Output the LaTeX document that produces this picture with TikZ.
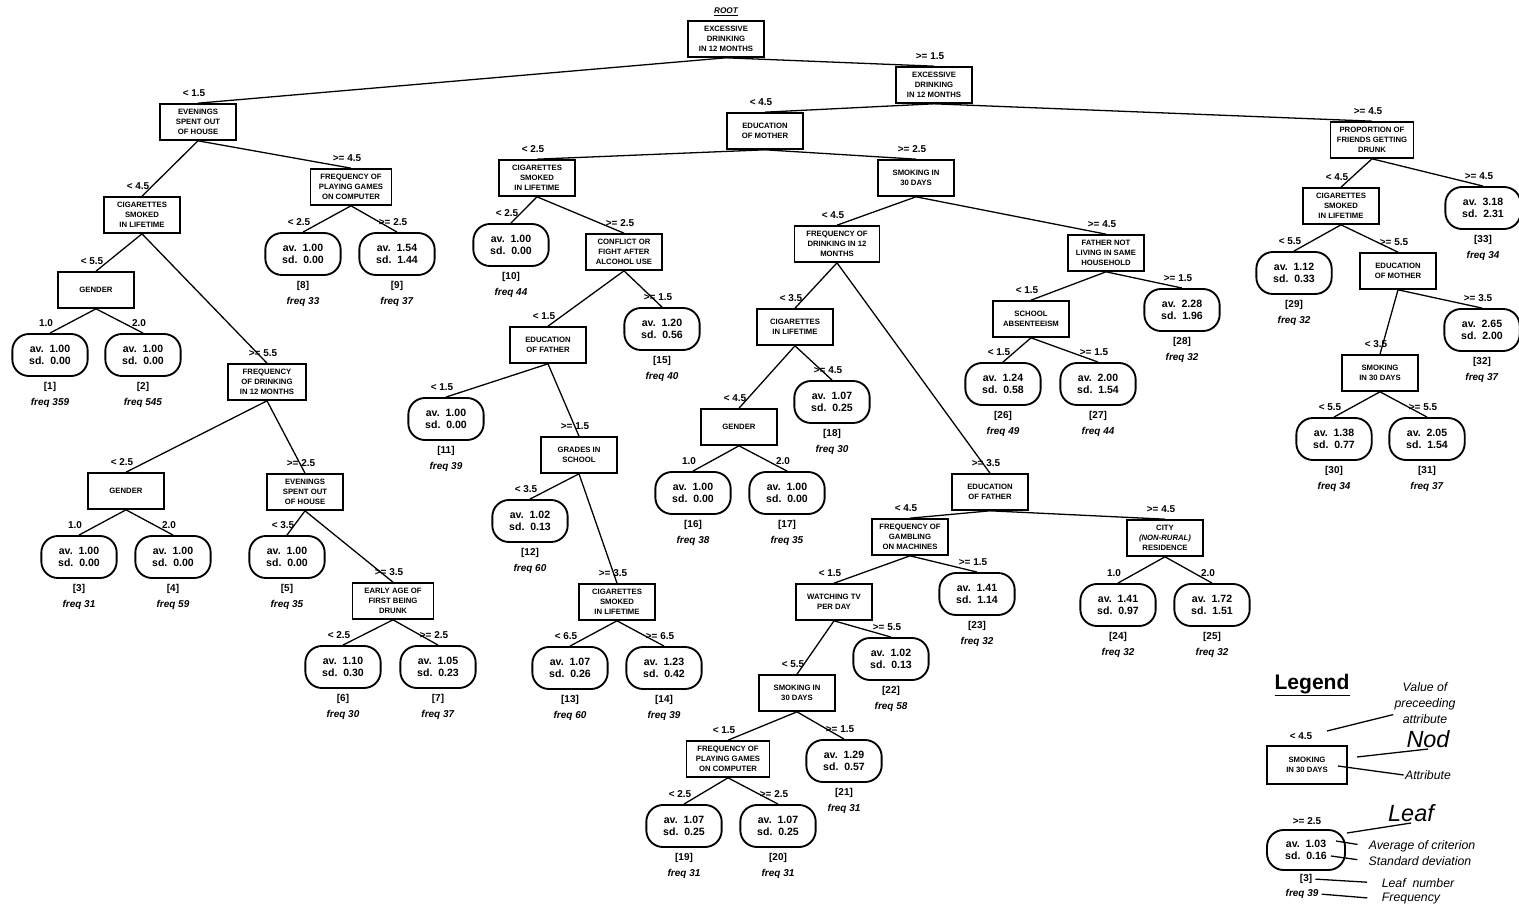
\documentclass[tikz,border=0pt]{standalone}
\usepackage{fontspec}
\setmainfont{Liberation Sans}
\begin{document}
\begin{tikzpicture}[x=0.03cm,y=-0.03cm,
  box/.style={draw, rectangle, line width=1.4pt, minimum width=2.28cm, minimum height=1.08cm, inner sep=1pt, align=center, font=\fontsize{6.6}{8.6}\selectfont\bfseries},
  leaf/.style={draw, rectangle, rounded corners=0.5cm, line width=1.6pt, minimum width=2.26cm, minimum height=1.26cm, inner sep=1pt, align=center, font=\fontsize{9}{10.4}\selectfont\bfseries},
  val/.style={font=\fontsize{8.5}{10}\selectfont\bfseries, inner sep=1pt},
  cut/.style={val, xshift=-0.12cm, yshift=4.5pt},
  num/.style={font=\fontsize{8.5}{13.6}\selectfont\bfseries, align=center, inner sep=1pt},
  leafno/.style={num, yshift=-3pt},
  link/.style={line width=1.1pt},
  note/.style={font=\fontsize{10.5}{13.4}\selectfont\itshape, align=center, inner sep=1pt},
  big/.style={font=\fontsize{20}{22}\selectfont\itshape, inner sep=1pt}]
\useasboundingbox (0,0) rectangle (1519,906);

\node[box, label={[font=\fontsize{7}{8}\selectfont\bfseries\itshape, inner sep=1pt, yshift=2.5pt]above:\underline{ROOT}}] (n0) at (726,39) {EXCESSIVE\\DRINKING\\IN 12 MONTHS};
\node[box, label={[cut]above:{< 1.5}}] (n1) at (198,122) {EVENINGS\\SPENT OUT\\OF HOUSE};
\node[box, label={[cut]above:{>= 1.5}}] (n2) at (934,85) {EXCESSIVE\\DRINKING\\IN 12 MONTHS};
\node[box, label={[cut]above:{< 4.5}}] (n3) at (142,215) {CIGARETTES\\SMOKED\\IN LIFETIME};
\node[box, minimum width=2.43cm, label={[cut]above:{>= 4.5}}] (n4) at (351,187) {FREQUENCY OF\\PLAYING GAMES\\ON COMPUTER};
\node[box, label={[cut]above:{< 5.5}}] (n5) at (96,290) {GENDER};
\node[box, minimum width=2.34cm, label={[cut]above:{>= 5.5}}] (n6) at (267,382) {FREQUENCY\\OF DRINKING\\IN 12 MONTHS};
\node[box, label={[cut]above:{< 2.5}}] (n7) at (126,491) {GENDER};
\node[box, label={[cut]above:{>= 2.5}}] (n8) at (305,492) {EVENINGS\\SPENT OUT\\OF HOUSE};
\node[box, minimum width=2.43cm, label={[cut]above:{>= 3.5}}] (n9) at (393,601) {EARLY AGE OF\\FIRST BEING\\DRUNK};
\node[box, label={[cut]above:{< 4.5}}] (n10) at (765,131) {EDUCATION\\OF MOTHER};
\node[box, minimum width=2.49cm, label={[cut]above:{>= 4.5}}] (n11) at (1372,140) {PROPORTION OF\\FRIENDS GETTING\\DRUNK};
\node[box, label={[cut]above:{< 2.5}}] (n12) at (537,178) {CIGARETTES\\SMOKED\\IN LIFETIME};
\node[box, label={[cut]above:{>= 2.5}}] (n13) at (916,178) {SMOKING IN\\30 DAYS};
\node[box, label={[cut]above:{>= 2.5}}] (n14) at (624,252) {CONFLICT OR\\FIGHT AFTER\\ALCOHOL USE};
\node[box, label={[cut]above:{< 1.5}}] (n15) at (548,345) {EDUCATION\\OF FATHER};
\node[box, label={[cut]above:{>= 1.5}}] (n16) at (579,455) {GRADES IN\\SCHOOL};
\node[box, label={[cut]above:{>= 3.5}}] (n17) at (617,602) {CIGARETTES\\SMOKED\\IN LIFETIME};
\node[box, minimum width=2.55cm, label={[cut]above:{< 4.5}}] (n18) at (837,244) {FREQUENCY OF\\DRINKING IN 12\\MONTHS};
\node[box, label={[cut]above:{>= 4.5}}] (n19) at (1106,253) {FATHER NOT\\LIVING IN SAME\\HOUSEHOLD};
\node[box, label={[cut]above:{< 3.5}}] (n20) at (795,327) {CIGARETTES\\IN LIFETIME};
\node[box, label={[cut]above:{< 4.5}}] (n21) at (739,427) {GENDER};
\node[box, label={[cut]above:{>= 3.5}}] (n22) at (990,492) {EDUCATION\\OF FATHER};
\node[box, label={[cut]above:{< 4.5}}] (n23) at (910,537) {FREQUENCY OF\\GAMBLING\\ON MACHINES};
\node[box, label={[cut]above:{>= 4.5}}] (n24) at (1165,538) {CITY\\\textit{(NON-RURAL)}\\RESIDENCE};
\node[box, label={[cut]above:{< 1.5}}] (n25) at (834,602) {WATCHING TV\\PER DAY};
\node[box, label={[cut]above:{< 5.5}}] (n26) at (797,693) {SMOKING IN\\30 DAYS};
\node[box, minimum width=2.49cm, label={[cut]above:{< 1.5}}] (n27) at (728,759) {FREQUENCY OF\\PLAYING GAMES\\ON COMPUTER};
\node[box, label={[cut]above:{< 1.5}}] (n28) at (1031,319) {SCHOOL\\ABSENTEEISM};
\node[box, label={[cut]above:{< 4.5}}] (n29) at (1341,206) {CIGARETTES\\SMOKED\\IN LIFETIME};
\node[box, label={[cut]above:{>= 5.5}}] (n30) at (1398,271) {EDUCATION\\OF MOTHER};
\node[box, label={[cut]above:{< 3.5}}] (n31) at (1380,373) {SMOKING\\IN 30 DAYS};

\node[leaf, label={[cut]above:{1.0}}, label={[leafno]below:{[1]\\\textit{freq 359}}}] (l1) at (50,355) {av.~~1.00\\sd.~~0.00};
\node[leaf, label={[cut]above:{2.0}}, label={[leafno]below:{[2]\\\textit{freq 545}}}] (l2) at (143,355) {av.~~1.00\\sd.~~0.00};
\node[leaf, label={[cut]above:{1.0}}, label={[leafno]below:{[3]\\\textit{freq 31}}}] (l3) at (79,557) {av.~~1.00\\sd.~~0.00};
\node[leaf, label={[cut]above:{2.0}}, label={[leafno]below:{[4]\\\textit{freq 59}}}] (l4) at (173,557) {av.~~1.00\\sd.~~0.00};
\node[leaf, label={[cut]above:{< 3.5}}, label={[leafno]below:{[5]\\\textit{freq 35}}}] (l5) at (287,557) {av.~~1.00\\sd.~~0.00};
\node[leaf, label={[cut]above:{< 2.5}}, label={[leafno]below:{[6]\\\textit{freq 30}}}] (l6) at (343,667) {av.~~1.10\\sd.~~0.30};
\node[leaf, label={[cut]above:{>= 2.5}}, label={[leafno]below:{[7]\\\textit{freq 37}}}] (l7) at (438,667) {av.~~1.05\\sd.~~0.23};
\node[leaf, label={[cut]above:{< 2.5}}, label={[leafno]below:{[8]\\\textit{freq 33}}}] (l8) at (303,254) {av.~~1.00\\sd.~~0.00};
\node[leaf, label={[cut]above:{>= 2.5}}, label={[leafno]below:{[9]\\\textit{freq 37}}}] (l9) at (397,254) {av.~~1.54\\sd.~~1.44};
\node[leaf, label={[cut]above:{< 2.5}}, label={[leafno]below:{[10]\\\textit{freq 44}}}] (l10) at (511,245) {av.~~1.00\\sd.~~0.00};
\node[leaf, label={[cut]above:{< 1.5}}, label={[leafno]below:{[11]\\\textit{freq 39}}}] (l11) at (446,419) {av.~~1.00\\sd.~~0.00};
\node[leaf, label={[cut]above:{< 3.5}}, label={[leafno]below:{[12]\\\textit{freq 60}}}] (l12) at (530,521) {av.~~1.02\\sd.~~0.13};
\node[leaf, label={[cut]above:{< 6.5}}, label={[leafno]below:{[13]\\\textit{freq 60}}}] (l13) at (570,668) {av.~~1.07\\sd.~~0.26};
\node[leaf, label={[cut]above:{>= 6.5}}, label={[leafno]below:{[14]\\\textit{freq 39}}}] (l14) at (664,668) {av.~~1.23\\sd.~~0.42};
\node[leaf, label={[cut]above:{>= 1.5}}, label={[leafno]below:{[15]\\\textit{freq 40}}}] (l15) at (662,329) {av.~~1.20\\sd.~~0.56};
\node[leaf, label={[cut]above:{1.0}}, label={[leafno]below:{[16]\\\textit{freq 38}}}] (l16) at (693,493) {av.~~1.00\\sd.~~0.00};
\node[leaf, label={[cut]above:{2.0}}, label={[leafno]below:{[17]\\\textit{freq 35}}}] (l17) at (787,493) {av.~~1.00\\sd.~~0.00};
\node[leaf, label={[cut]above:{>= 4.5}}, label={[leafno]below:{[18]\\\textit{freq 30}}}] (l18) at (832,402) {av.~~1.07\\sd.~~0.25};
\node[leaf, label={[cut]above:{< 2.5}}, label={[leafno]below:{[19]\\\textit{freq 31}}}] (l19) at (684,826) {av.~~1.07\\sd.~~0.25};
\node[leaf, label={[cut]above:{>= 2.5}}, label={[leafno]below:{[20]\\\textit{freq 31}}}] (l20) at (778,826) {av.~~1.07\\sd.~~0.25};
\node[leaf, label={[cut]above:{>= 1.5}}, label={[leafno]below:{[21]\\\textit{freq 31}}}] (l21) at (844,761) {av.~~1.29\\sd.~~0.57};
\node[leaf, label={[cut]above:{>= 5.5}}, label={[leafno]below:{[22]\\\textit{freq 58}}}] (l22) at (891,659) {av.~~1.02\\sd.~~0.13};
\node[leaf, label={[cut]above:{>= 1.5}}, label={[leafno]below:{[23]\\\textit{freq 32}}}] (l23) at (977,594) {av.~~1.41\\sd.~~1.14};
\node[leaf, label={[cut]above:{1.0}}, label={[leafno]below:{[24]\\\textit{freq 32}}}] (l24) at (1118,605) {av.~~1.41\\sd.~~0.97};
\node[leaf, label={[cut]above:{2.0}}, label={[leafno]below:{[25]\\\textit{freq 32}}}] (l25) at (1212,605) {av.~~1.72\\sd.~~1.51};
\node[leaf, label={[cut]above:{< 1.5}}, label={[leafno]below:{[26]\\\textit{freq 49}}}] (l26) at (1003,384) {av.~~1.24\\sd.~~0.58};
\node[leaf, label={[cut]above:{>= 1.5}}, label={[leafno]below:{[27]\\\textit{freq 44}}}] (l27) at (1098,384) {av.~~2.00\\sd.~~1.54};
\node[leaf, label={[cut]above:{>= 1.5}}, label={[leafno]below:{[28]\\\textit{freq 32}}}] (l28) at (1182,310) {av.~~2.28\\sd.~~1.96};
\node[leaf, label={[cut]above:{< 5.5}}, label={[leafno]below:{[29]\\\textit{freq 32}}}] (l29) at (1294,273) {av.~~1.12\\sd.~~0.33};
\node[leaf, label={[cut]above:{< 5.5}}, label={[leafno]below:{[30]\\\textit{freq 34}}}] (l30) at (1334,439) {av.~~1.38\\sd.~~0.77};
\node[leaf, label={[cut]above:{>= 5.5}}, label={[leafno]below:{[31]\\\textit{freq 37}}}] (l31) at (1427,439) {av.~~2.05\\sd.~~1.54};
\node[leaf, label={[cut]above:{>= 3.5}}, label={[leafno]below:{[32]\\\textit{freq 37}}}] (l32) at (1482,330) {av.~~2.65\\sd.~~2.00};
\node[leaf, label={[cut]above:{>= 4.5}}, label={[leafno]below:{[33]\\\textit{freq 34}}}] (l33) at (1483,208) {av.~~3.18\\sd.~~2.31};

\draw[link] (n1.north) -- (n0.south) -- (n2.north);
\draw[link] (n3.north) -- (n1.south) -- (n4.north);
\draw[link] (l8.north) -- (n4.south) -- (l9.north);
\draw[link] (n5.north) -- (n3.south) -- (n6.north);
\draw[link] (l1.north) -- (n5.south) -- (l2.north);
\draw[link] (n7.north) -- (n6.south) -- (n8.north);
\draw[link] (l3.north) -- (n7.south) -- (l4.north);
\draw[link] (l5.north) -- (n8.south) -- (n9.north);
\draw[link] (l6.north) -- (n9.south) -- (l7.north);
\draw[link] (n10.north) -- (n2.south) -- (n11.north);
\draw[link] (n12.north) -- (n10.south) -- (n13.north);
\draw[link] (l10.north) -- (n12.south) -- (n14.north);
\draw[link] (n15.north) -- (n14.south) -- (l15.north);
\draw[link] (l11.north) -- (n15.south) -- (n16.north);
\draw[link] (l12.north) -- (n16.south) -- (n17.north);
\draw[link] (l13.north) -- (n17.south) -- (l14.north);
\draw[link] (n18.north) -- (n13.south) -- (n19.north);
\draw[link] (n20.north) -- (n18.south) -- (n22.north);
\draw[link] (n21.north) -- (n20.south) -- (l18.north);
\draw[link] (l16.north) -- (n21.south) -- (l17.north);
\draw[link] (n23.north) -- (n22.south) -- (n24.north);
\draw[link] (n25.north) -- (n23.south) -- (l23.north);
\draw[link] (n26.north) -- (n25.south) -- (l22.north);
\draw[link] (n27.north) -- (n26.south) -- (l21.north);
\draw[link] (l19.north) -- (n27.south) -- (l20.north);
\draw[link] (l24.north) -- (n24.south) -- (l25.north);
\draw[link] (n28.north) -- (n19.south) -- (l28.north);
\draw[link] (l26.north) -- (n28.south) -- (l27.north);
\draw[link] (n29.north) -- (n11.south) -- (l33.north);
\draw[link] (l29.north) -- (n29.south) -- (n30.north);
\draw[link] (n31.north) -- (n30.south) -- (l32.north);
\draw[link] (l30.north) -- (n31.south) -- (l31.north);

\node[font=\fontsize{18}{20}\selectfont\bfseries] (lgT) at (1312,685) {\underline{Legend}};
\node[note] (lgV) at (1425,703) {Value of\\preceeding\\attribute};
\node[val] (lgC) at (1301,736) {< 4.5};
\node[big] (lgN) at (1428,739) {Nod};
\node[box, minimum width=2.4cm, minimum height=1.14cm] (lgB) at (1307,765) {SMOKING\\IN 30 DAYS};
\node[note] (lgA) at (1428,775) {Attribute};
\node[val] (lgC2) at (1307,821) {>= 2.5};
\node[big] (lgLf) at (1411,813) {Leaf};
\node[leaf, minimum width=2.34cm, minimum height=1.2cm] (lgL) at (1306,850) {av.~~1.03\\sd.~~0.16};
\node[note] (lgAv) at (1422,846) {Average of criterion};
\node[note] (lgSd) at (1420,861) {Standard deviation};
\node[num] (lgI) at (1306,879) {[3]};
\node[num] (lgF) at (1302,894) {\textit{freq 39}};
\node[note] (lgNum) at (1418,883) {Leaf~~number};
\node[note] (lgFr) at (1411,899) {Frequency};
\coordinate (pV) at (1327,731);
\coordinate (pN) at (1357,757);
\coordinate (pA) at (1338,766);
\coordinate (pL) at (1347,833);
\coordinate (pAv) at (1336,841);
\coordinate (pSd) at (1331,856);
\draw[link] (pV) -- (lgV.200);
\draw[link] (pN) -- (lgN.south);
\draw[link] (pA) -- (lgA.west);
\draw[link] (pL) -- (lgLf.south);
\draw[link, shorten >=0.3cm] (pAv) -- (lgAv.west);
\draw[link, shorten >=0.3cm] (pSd) -- (lgSd.west);
\draw[link, shorten <=0.06cm, shorten >=0.4cm] (lgI.east) -- (lgNum.west);
\draw[link, shorten <=0.06cm, shorten >=0.4cm] (lgF.east) -- (lgFr.west);
\end{tikzpicture}
\end{document}
